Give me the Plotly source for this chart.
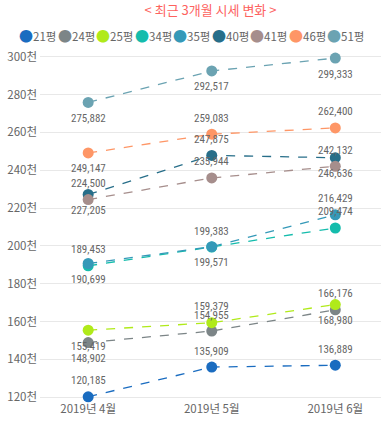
import plotly.graph_objects as go

months = ["2019년 4월", "2019년 5월", "2019년 6월"]
series_names = ["21평", "24평", "25평", "34평", "35평", "40평", "41평", "46평", "51평"]
v21 = [120185, 135909, 136889]
v24 = [148902, 154955, 166176]
v25 = [155419, 159379, 168980]
v34 = [189453, 199383, 209474]
v35 = [190699, 199571, 216429]
v40 = [227205, 247875, 246636]
v41 = [224500, 235944, 242132]
v46 = [249147, 259083, 262400]
v51 = [275882, 292517, 299333]
values = [v21, v24, v25, v34, v35, v40, v41, v46, v51]
colors = ["#1A6CC0", "#7C8587", "#B0EA1A", "#14BCAC", "#3599B8", "#276E89", "#A68E8C", "#FE9666", "#6BA3B2"]
# label placement: +1 above the point, -1 below
label_side = [
    [1, 1, 1],
    [-1, 1, 1],
    [-1, 1, -1],
    [1, 1, 1],
    [-1, -1, 1],
    [-1, 1, -1],
    [1, 1, 1],
    [-1, 1, 1],
    [-1, -1, -1],
]
tick_vals = [120000, 140000, 160000, 180000, 200000, 220000, 240000, 260000, 280000, 300000]
tick_text = ["120천", "140천", "160천", "180천", "200천", "220천", "240천", "260천", "280천", "300천"]
title_text = "< 최근 3개월 시세 변화 >"

KFONT = "Noto Sans CJK KR"
NFONT = "Roboto Condensed, Roboto, sans-serif"

fig = go.Figure()
annotations = []
for name, vals, col, sides in zip(series_names, values, colors, label_side):
    fig.add_trace(go.Scatter(
        x=months, y=vals, name=name, mode="lines+markers",
        line=dict(color=col, width=1.3, dash="dash"),
        marker=dict(color=col, size=11),
        showlegend=False, cliponaxis=False,
    ))
    for m, v, s in zip(months, vals, sides):
        annotations.append(dict(
            x=m, y=v, xref="x", yref="y", text=f"{v:,}", showarrow=False,
            yshift=16 * s, font=dict(family=NFONT, size=11, color="#666666"),
        ))

# legend built from text annotations (compact Power BI-style legend)
L, R, T, B = 40, 381, 54, 21
PH = 421 - T - B
for i, (name, col) in enumerate(zip(series_names, colors)):
    px = 23.5 + 38.5 * i
    annotations.append(dict(
        x=(px - 6.5 - L) / (R - L), y=(421 - 35 - B) / PH, xref="paper", yref="paper",
        xanchor="left", yanchor="middle", showarrow=False,
        text=f"<span style='color:{col};font-size:14px'>●</span>{name}",
        font=dict(family=KFONT, size=11.5, color="#666666"),
    ))

fig.update_layout(
    width=382, height=421,
    margin=dict(l=L, r=382 - R, t=T, b=B),
    paper_bgcolor="white", plot_bgcolor="white",
    title=dict(text=title_text, x=0.5, xanchor="center", xref="paper", y=1 - 10 / 421, yanchor="middle",
               font=dict(family=KFONT, size=13, color="#FD625E")),
    xaxis=dict(type="category", range=[-0.39, 2.37], showgrid=False, showline=False, zeroline=False,
               ticks="", tickfont=dict(family=KFONT, size=11.5, color="#666666")),
    yaxis=dict(range=[118500, 301500], tickvals=tick_vals, ticktext=tick_text,
               showgrid=True, gridcolor="#E8E8E8", gridwidth=1, zeroline=False, showline=False,
               ticks="", ticklabelstandoff=2,
               tickfont=dict(family=KFONT, size=11.5, color="#666666")),
    annotations=annotations,
    showlegend=False,
)

fig.write_html("out.html", config={"displayModeBar": False},
               post_script="document.body.style.margin='0';")
